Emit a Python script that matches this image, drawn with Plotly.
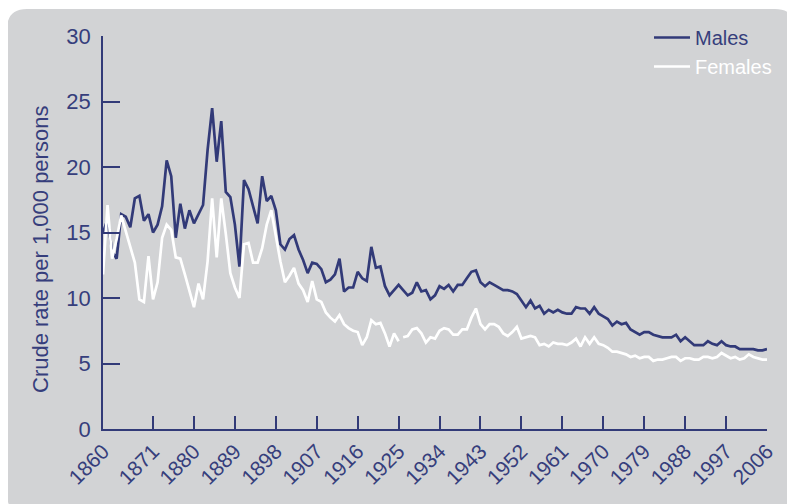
import plotly.graph_objects as go

years = list(range(1860, 2007))

males = [
    15.0, 16.0, 13.6, 13.0, 16.4, 16.2, 15.4, 17.6, 17.8, 15.9,
    16.4, 15.0, 15.6, 17.0, 20.5, 19.3, 14.6, 17.2, 15.3, 16.7,
    15.7, 16.4, 17.1, 21.3, 24.5, 20.4, 23.5, 18.1, 17.7, 15.6,
    12.4, 19.0, 18.3, 17.0, 15.7, 19.3, 17.4, 17.8, 16.7, 14.1,
    13.7, 14.5, 14.8, 13.7, 12.9, 11.9, 12.7, 12.6, 12.2, 11.2,
    11.4, 11.8, 13.0, 10.5, 10.8, 10.8, 12.0, 11.5, 11.3, 13.9,
    12.3, 12.4, 10.9, 10.2, 10.6, 11.0, 10.6, 10.2, 10.4, 11.2,
    10.5, 10.6, 9.9, 10.2, 10.9, 10.7, 11.0, 10.5, 11.0, 11.0,
    11.5, 12.0, 12.1, 11.2, 10.9, 11.2, 11.0, 10.8, 10.6, 10.6,
    10.5, 10.3, 9.8, 9.3, 9.8, 9.2, 9.4, 8.8, 9.1, 8.9,
    9.1, 8.9, 8.8, 8.8, 9.3, 9.2, 9.2, 8.8, 9.3, 8.8,
    8.6, 8.4, 7.9, 8.2, 8.0, 8.1, 7.6, 7.4, 7.2, 7.4,
    7.4, 7.2, 7.1, 7.0, 7.0, 7.0, 7.2, 6.7, 7.0, 6.7,
    6.4, 6.4, 6.4, 6.7, 6.5, 6.4, 6.7, 6.4, 6.3, 6.3,
    6.1, 6.1, 6.1, 6.1, 6.0, 6.0, 6.1,
]

females = [
    11.8, 17.1, 13.0, 14.5, 16.3, 15.1, 13.8, 12.7, 9.9, 9.7,
    13.2, 9.9, 11.2, 14.6, 15.6, 15.2, 13.1, 13.0, 11.8, 10.5,
    9.3, 11.1, 9.9, 12.8, 17.6, 13.1, 17.6, 14.9, 11.9, 10.8,
    10.0, 14.1, 14.2, 12.7, 12.7, 13.8, 15.6, 16.7, 14.6, 12.8,
    11.2, 11.7, 12.3, 11.1, 10.6, 9.7, 11.3, 9.9, 9.7, 8.9,
    8.5, 8.2, 8.7, 8.0, 7.7, 7.5, 7.4, 6.4, 7.0, 8.3,
    8.0, 8.1, 7.3, 6.3, 7.3, 6.7, 7.0, 7.1, 7.6, 7.7,
    7.3, 6.6, 7.0, 6.9, 7.5, 7.7, 7.6, 7.2, 7.2, 7.6,
    7.6, 8.5, 9.2, 8.0, 7.6, 8.0, 8.0, 7.8, 7.3, 7.1,
    7.4, 7.8, 6.9, 7.0, 7.1, 7.0, 6.4, 6.5, 6.3, 6.6,
    6.5, 6.5, 6.4, 6.6, 6.9, 6.3, 7.0, 6.5, 7.0, 6.5,
    6.4, 6.2, 5.9, 5.9, 5.8, 5.7, 5.5, 5.6, 5.4, 5.5,
    5.5, 5.2, 5.3, 5.3, 5.4, 5.5, 5.5, 5.2, 5.4, 5.4,
    5.3, 5.3, 5.5, 5.5, 5.4, 5.5, 5.8, 5.6, 5.4, 5.5,
    5.3, 5.4, 5.7, 5.5, 5.4, 5.3, 5.3,
]

# the female series is drawn with a break after this year (as in the source)
female_break_after = 1925

tick_years = [1860, 1871, 1880, 1889, 1898, 1907, 1916, 1925, 1934,
              1943, 1952, 1961, 1970, 1979, 1988, 1997, 2006]
y_ticks = [0, 5, 10, 15, 20, 25, 30]

NAVY = "#323a78"
TEXT = "#363e7c"
PANEL = "#d2d3d5"
FONT = "Liberation Sans, Arial, Helvetica, sans-serif"

OFF = 8  # page body margin
W, H = 795 - OFF, 504 - OFF
ML, MR, MT, MB = 103 - OFF, 28, 36 - OFF, 75
PW, PH = W - ML - MR, H - MT - MB

# female with break
bi = years.index(female_break_after) + 1
fx = years[:bi] + [None] + years[bi:]
fy = females[:bi] + [None] + females[bi:]

fig = go.Figure()
fig.add_trace(go.Scatter(x=years, y=males, mode="lines", name="Males",
                         line=dict(color=NAVY, width=2.7)))
fig.add_trace(go.Scatter(x=fx, y=fy, mode="lines",
                         name='<span style="color:#ffffff">Females</span>',
                         line=dict(color="#ffffff", width=2.7),
                         connectgaps=False))


def px(x):  # screen pixel -> paper
    return (x - OFF - ML) / PW


def py(y):
    return (H - MB - (y - OFF)) / PH


# rounded grey panel
L, T, R, B, r = 7, 9, 795, 514, 20
path = (f"M {px(L)},{py(T + r)} Q {px(L)},{py(T)} {px(L + r)},{py(T)} "
        f"L {px(R - r)},{py(T)} Q {px(R)},{py(T)} {px(R)},{py(T + r)} "
        f"L {px(R)},{py(B - r)} Q {px(R)},{py(B)} {px(R - r)},{py(B)} "
        f"L {px(L + r)},{py(B)} Q {px(L)},{py(B)} {px(L)},{py(B - r)} Z")
fig.add_shape(type="path", path=path, xref="paper", yref="paper",
              fillcolor=PANEL, line=dict(width=0), layer="below")

fig.add_annotation(text="Crude rate per 1,000 persons", textangle=-90,
                   x=px(40), y=py(250), xref="paper", yref="paper",
                   showarrow=False, xanchor="center", yanchor="middle",
                   font=dict(family=FONT, size=22, color=TEXT))

fig.update_layout(
    width=W, height=H,
    margin=dict(l=ML, r=MR, t=MT, b=MB, autoexpand=False),
    paper_bgcolor="#ffffff",
    plot_bgcolor=PANEL,
    font=dict(family=FONT, size=21, color=TEXT),
    showlegend=True,
    legend=dict(x=px(649), y=py(18), xanchor="left", yanchor="top",
                bgcolor="rgba(0,0,0,0)", font=dict(size=20, color=TEXT),
                tracegroupgap=0, itemwidth=36),
    xaxis=dict(range=[1860, 2006], tickmode="array", tickvals=tick_years,
               ticktext=[str(t) for t in tick_years],
               ticks="inside", ticklen=13, tickwidth=1.5, tickcolor=NAVY,
               showline=True, linecolor=NAVY, linewidth=1.5,
               showgrid=False, zeroline=False, tickangle=-45,
               tickfont=dict(size=21, color=TEXT)),
    yaxis=dict(range=[0, 30], tickmode="array", tickvals=y_ticks,
               ticks="inside", ticklen=17, tickwidth=1.5, tickcolor=NAVY,
               showline=True, linecolor=NAVY, linewidth=1.5,
               showgrid=False, zeroline=False, ticklabelstandoff=6,
               tickfont=dict(size=22, color=TEXT)),
)

fig.write_html("out.html")
